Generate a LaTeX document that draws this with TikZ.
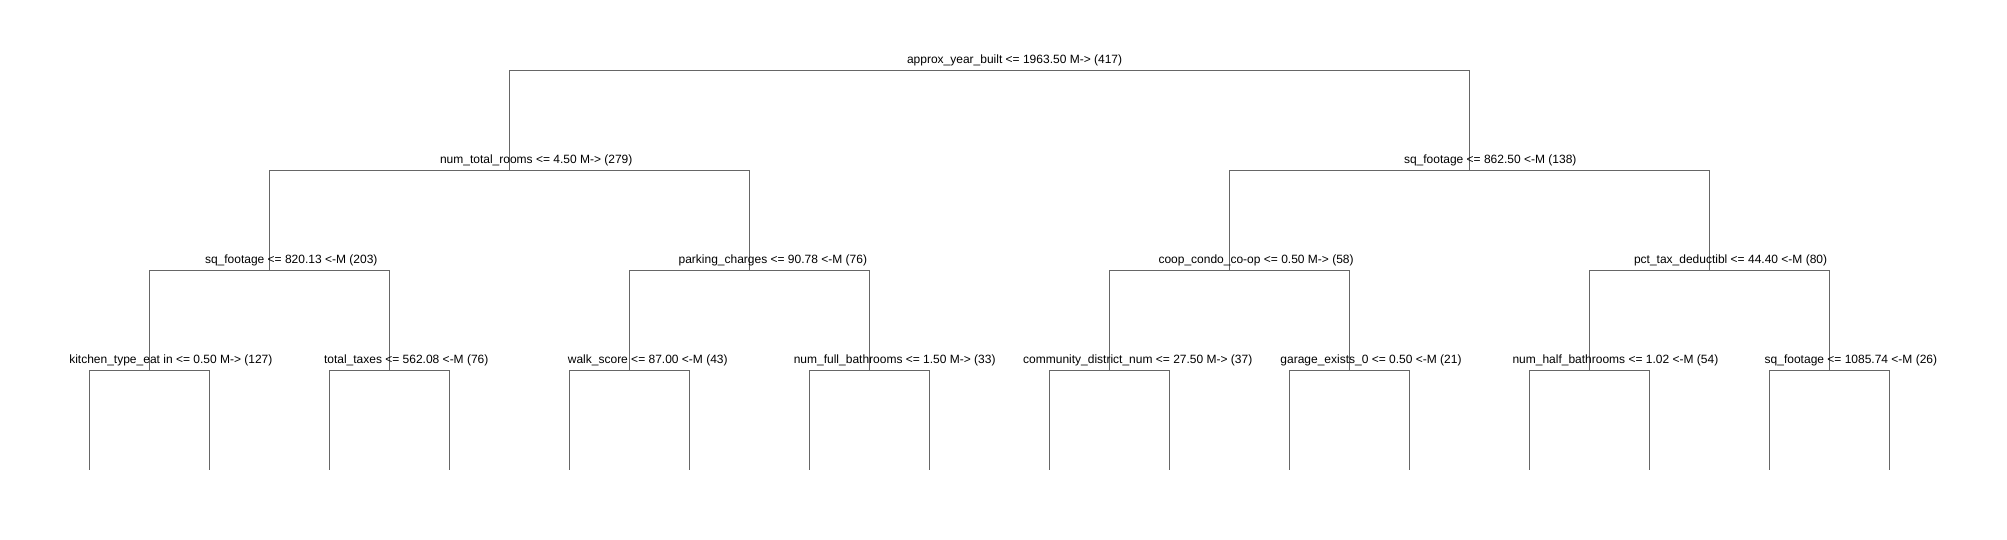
\documentclass[tikz,border=0pt]{standalone}
\usepackage{fontspec}
\setmainfont{Liberation Sans}
\definecolor{edgegray}{RGB}{102,102,102}
\begin{document}
\begin{tikzpicture}[x=1pt,y=1pt,
  edge/.style={draw=edgegray, line width=1pt},
  lab/.style={anchor=base west, inner sep=0pt, outer sep=0pt, font=\fontsize{12}{14}\selectfont, text=black}]
\useasboundingbox (0,0) rectangle (2007,540);
% split points (y measured upward)
\coordinate (n0) at (989.3,469.7);
\coordinate (n1) at (509.3,369.7);
\coordinate (n2) at (1469.3,369.7);
\coordinate (n3) at (269.3,269.7);
\coordinate (n4) at (749.3,269.7);
\coordinate (n5) at (1229.3,269.7);
\coordinate (n6) at (1709.3,269.7);
\coordinate (n7) at (149.3,169.7);
\coordinate (n8) at (389.3,169.7);
\coordinate (n9) at (629.3,169.7);
\coordinate (n10) at (869.3,169.7);
\coordinate (n11) at (1109.3,169.7);
\coordinate (n12) at (1349.3,169.7);
\coordinate (n13) at (1589.3,169.7);
\coordinate (n14) at (1829.3,169.7);
% leaves
\foreach \k in {0,...,15}{
  \coordinate (lf\k) at ({89.3+120*\k},70);
}
% connectors
\draw[edge] (n0) -| (n1);
\draw[edge] (n0) -| (n2);
\draw[edge] (n1) -| (n3);
\draw[edge] (n1) -| (n4);
\draw[edge] (n2) -| (n5);
\draw[edge] (n2) -| (n6);
\draw[edge] (n3) -| (n7);
\draw[edge] (n3) -| (n8);
\draw[edge] (n4) -| (n9);
\draw[edge] (n4) -| (n10);
\draw[edge] (n5) -| (n11);
\draw[edge] (n5) -| (n12);
\draw[edge] (n6) -| (n13);
\draw[edge] (n6) -| (n14);
\draw[edge] (n7) -| (lf0);
\draw[edge] (n7) -| (lf1);
\draw[edge] (n8) -| (lf2);
\draw[edge] (n8) -| (lf3);
\draw[edge] (n9) -| (lf4);
\draw[edge] (n9) -| (lf5);
\draw[edge] (n10) -| (lf6);
\draw[edge] (n10) -| (lf7);
\draw[edge] (n11) -| (lf8);
\draw[edge] (n11) -| (lf9);
\draw[edge] (n12) -| (lf10);
\draw[edge] (n12) -| (lf11);
\draw[edge] (n13) -| (lf12);
\draw[edge] (n13) -| (lf13);
\draw[edge] (n14) -| (lf14);
\draw[edge] (n14) -| (lf15);
% labels
\node[lab] (t0) at (907,476.3) {approx\_year\_built <= 1963.50 M-> (417)};
\node[lab] (t1) at (440,376.3) {num\_total\_rooms <= 4.50 M-> (279)};
\node[lab] (t2) at (1404,376.3) {sq\_footage <= 862.50 <-M (138)};
\node[lab] (t3) at (205,276.3) {sq\_footage <= 820.13 <-M (203)};
\node[lab] (t4) at (678.6,276.3) {parking\_charges <= 90.78 <-M (76)};
\node[lab] (t5) at (1158.5,276.3) {coop\_condo\_co-op <= 0.50 M-> (58)};
\node[lab] (t6) at (1634,276.3) {pct\_tax\_deductibl <= 44.40 <-M (80)};
\node[lab] (t7) at (69.3,176.3) {kitchen\_type\_eat in <= 0.50 M-> (127)};
\node[lab] (t8) at (324,176.3) {total\_taxes <= 562.08 <-M (76)};
\node[lab] (t9) at (567.9,176.3) {walk\_score <= 87.00 <-M (43)};
\node[lab] (t10) at (793.8,176.3) {num\_full\_bathrooms <= 1.50 M-> (33)};
\node[lab] (t11) at (1023.2,176.3) {community\_district\_num <= 27.50 M-> (37)};
\node[lab] (t12) at (1280.4,176.3) {garage\_exists\_0 <= 0.50 <-M (21)};
\node[lab] (t13) at (1512.5,176.3) {num\_half\_bathrooms <= 1.02 <-M (54)};
\node[lab] (t14) at (1764.7,176.3) {sq\_footage <= 1085.74 <-M (26)};
\end{tikzpicture}
\end{document}
